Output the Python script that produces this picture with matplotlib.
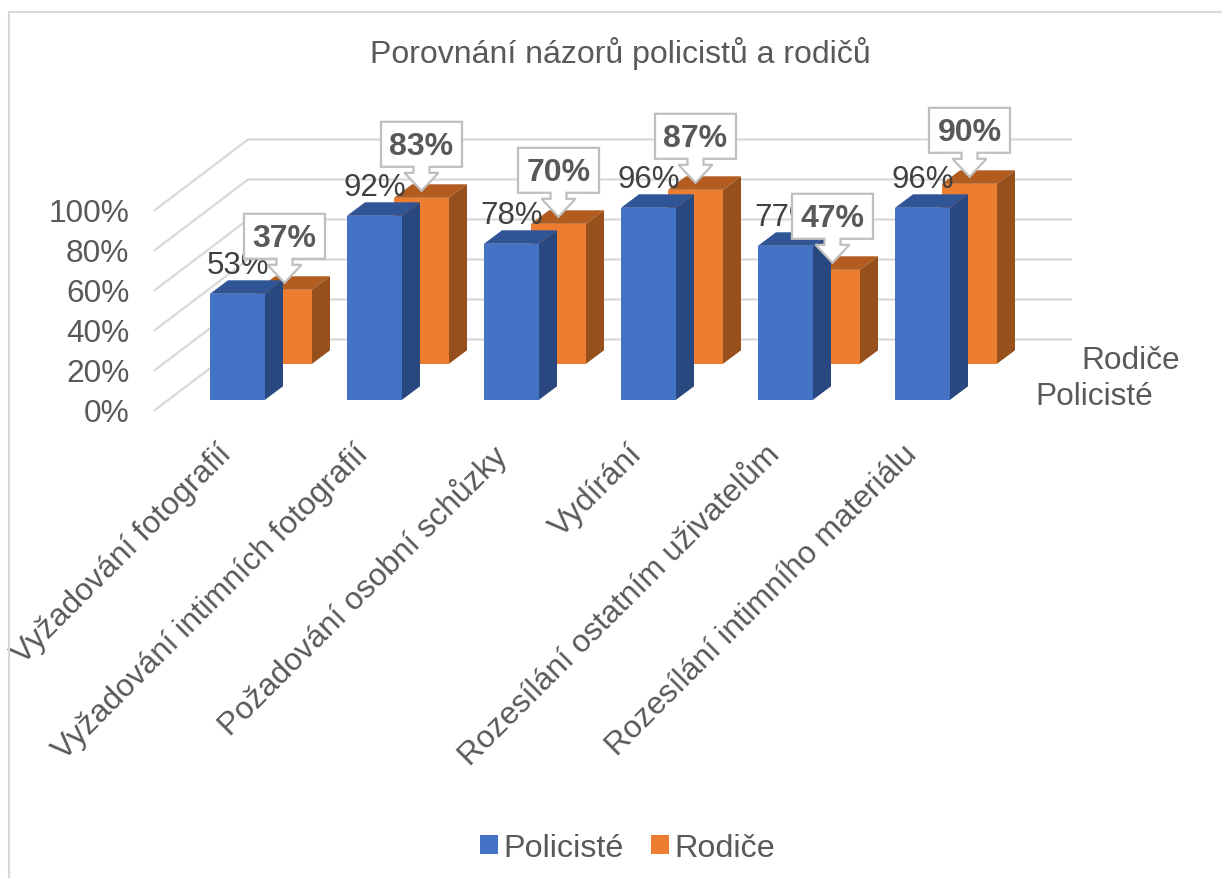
import matplotlib
matplotlib.use("Agg")
import matplotlib.pyplot as plt
from matplotlib.patches import Polygon
from matplotlib.lines import Line2D
from matplotlib.transforms import ScaledTranslation
import numpy as np

plt.rcParams['font.family'] = ['Liberation Sans', 'DejaVu Sans']

categories = ["Vyžadování fotografií", "Vyžadování intimních fotografií", "Požadování osobní schůzky",
              "Vydírání", "Rozesílání ostatním uživatelům", "Rozesílání intimního materiálu"]
policiste = [53, 92, 78, 96, 77, 96]
rodice = [37, 83, 70, 87, 47, 90]
y_ticks = [0, 20, 40, 60, 80, 100]
y_tick_labels = ["0%", "20%", "40%", "60%", "80%", "100%"]
series_names = ["Policisté", "Rodiče"]

W, H = 1222, 879
fig = plt.figure(figsize=(W / 100, H / 100), dpi=100, facecolor='white')

# one category = 137 px, one percent = 2 px
PX_X, PX_Y = 137.0, 2.0
L, B = 135, H - 400.8
ax = fig.add_axes([L / W, B / H, (W - L) / W, (H - B) / H])
ax.set_xlim((L - 237.5) / PX_X, (W - 237.5) / PX_X)
ax.set_ylim(0, (H - B) / PX_Y)
ax.patch.set_visible(False)
for s in ax.spines.values():
    s.set_visible(False)

def dx(px): return px / PX_X
def dy(px): return px / PX_Y

x = np.arange(len(categories))
TXT = '#595959'

# chart frame
fig.add_artist(Line2D([8.5 / W, 8.5 / W, 1 ], [0, 1 - 12.5 / H, 1 - 12.5 / H], color='#d9d9d9', lw=1.5))

# walls
GRID = '#d9d9d9'
fx0, bx0, bx1 = (155 - 237.5) / PX_X, (248 - 237.5) / PX_X, (1071 - 237.5) / PX_X
for v in y_ticks:
    fy = v + dy(-10.2)
    by = v + dy(60.3)
    ax.plot([fx0, bx0, bx1], [fy, by, by], color=GRID, lw=1.6, clip_on=False, zorder=1)

DEPTH_X, DEPTH_Y = dx(18), dy(13.5)
BW = dx(55)

def bar3d(xc, base, val, front, top, side, z, label=None):
    ax.bar(xc, val - base, BW, bottom=base, color=front, zorder=z, label=label, clip_on=False)
    l, r = xc - BW / 2, xc + BW / 2
    ax.add_patch(Polygon([(l, val), (r, val), (r + DEPTH_X, val + DEPTH_Y), (l + DEPTH_X, val + DEPTH_Y)],
                         closed=True, facecolor=top, edgecolor='none', zorder=z, clip_on=False))
    ax.add_patch(Polygon([(r, base), (r + DEPTH_X, base + DEPTH_Y), (r + DEPTH_X, val + DEPTH_Y), (r, val)],
                         closed=True, facecolor=side, edgecolor='none', zorder=z, clip_on=False))

R_OFF = dx(47)
R_BASE = dy(36)
for i in x:
    bar3d(i + R_OFF, R_BASE, R_BASE + rodice[i], '#ED7D31', '#B35C1F', '#97501B', 2 + 0.01 * i,
          label=series_names[1] if i == 0 else None)
for i in x:
    bar3d(i, 0, policiste[i], '#4472C4', '#2F5597', '#28487F', 3 + 0.01 * i,
          label=series_names[0] if i == 0 else None)

# data labels for the front series
for i in x:
    ax.text(i, policiste[i] + dy(29), f"{policiste[i]}%", ha='center', va='center',
            fontsize=22.5, color='#404040', zorder=5, clip_on=False)

# callouts for the back series
for i in x:
    tx = i + R_OFF
    ty = R_BASE + rodice[i] + dy(7)
    pts = [(0, 0), (17, 18), (8, 18), (8, 24), (40.5, 24), (40.5, 69), (-40.5, 69),
           (-40.5, 24), (-8, 24), (-8, 18), (-17, 18)]
    ax.add_patch(Polygon([(tx + dx(a), ty + dy(b)) for a, b in pts], closed=True, facecolor='white',
                         edgecolor='#bfbfbf', lw=1.6, zorder=6, clip_on=False))
    ax.text(tx, ty + dy(44.5), f"{rodice[i]}%", ha='center', va='center', fontsize=23,
            fontweight='bold', color=TXT, zorder=7, clip_on=False)

# axes ticks
ax.set_yticks(y_ticks, y_tick_labels)
ax.set_xticks(x, categories)
ax.tick_params(axis='both', length=0, labelsize=22.8, labelcolor=TXT, pad=7)
for lab in ax.get_yticklabels():
    lab.set_transform(lab.get_transform() + ScaledTranslation(4 / 100, -10.2 / 100, fig.dpi_scale_trans))
for lab in ax.get_xticklabels():
    lab.set_rotation(45)
    lab.set_rotation_mode('anchor')
    lab.set_ha('right')
    lab.set_va('top')
    lab.set_transform(lab.get_transform() + ScaledTranslation(-21 / 100, -29 / 100, fig.dpi_scale_trans))

# depth axis labels
ax.text((1180 - 237.5) / PX_X, dy(40), series_names[1], ha='right', va='center', fontsize=22.8, color=TXT, clip_on=False)
ax.text((1153 - 237.5) / PX_X, dy(4), series_names[0], ha='right', va='center', fontsize=22.8, color=TXT, clip_on=False)

fig.text(620.5 / W, 1 - 54 / H, "Porovnání názorů policistů a rodičů", ha='center', va='center', fontsize=23, color=TXT)

h, l = ax.get_legend_handles_labels()
order = [l.index(series_names[0]), l.index(series_names[1])]
fig.legend([h[k] for k in order], [l[k] for k in order], loc='center', bbox_to_anchor=(627.5 / W, 1 - 849 / H),
           ncol=2, frameon=False, fontsize=23.3, handlelength=0.55, handleheight=0.55, handletextpad=0.16,
           columnspacing=0.86, labelcolor=TXT)

fig.savefig("out.png", dpi=100)
